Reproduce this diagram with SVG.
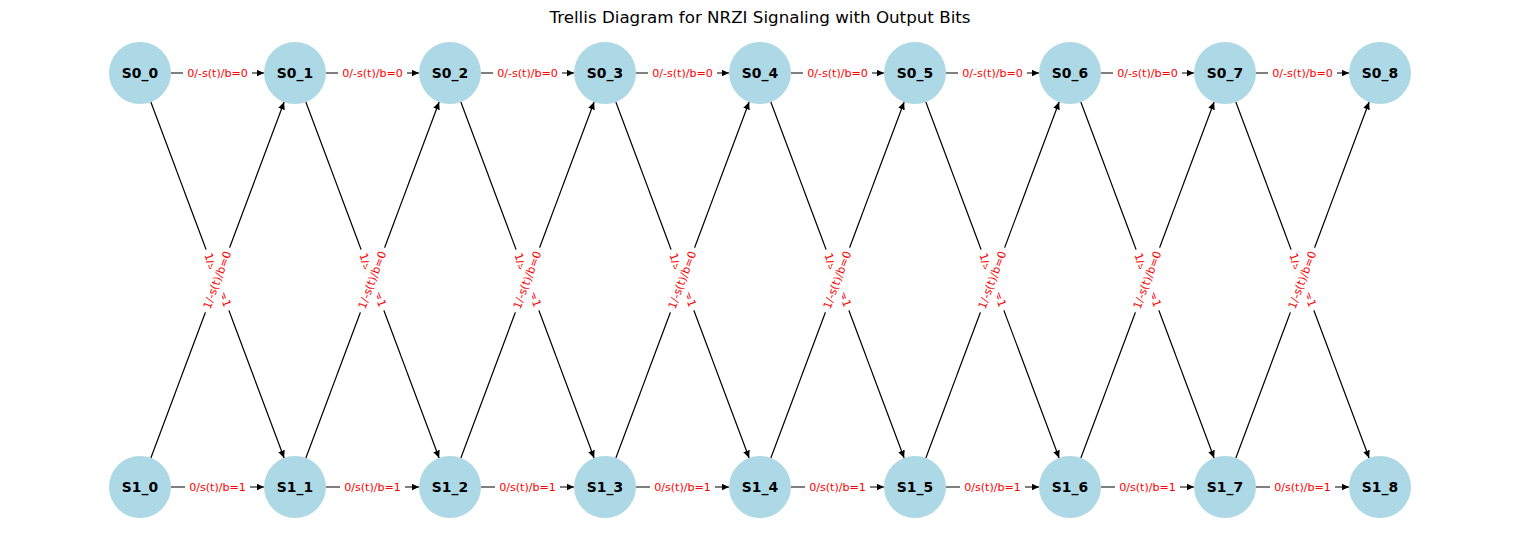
<svg xmlns="http://www.w3.org/2000/svg" width="1520" height="540" viewBox="0 0 1520 540">
<style>
.title{font-family:"DejaVu Sans","Liberation Sans",sans-serif;font-size:16.7px;fill:#000;text-anchor:middle}
.node circle{fill:#ADD8E6}
.node text{font-family:"DejaVu Sans","Liberation Sans",sans-serif;font-size:13.9px;font-weight:bold;fill:#000;text-anchor:middle;dominant-baseline:central}
.edge{stroke:#000;stroke-width:1.2;fill:none;marker-end:url(#arr)}
.lbl rect{fill:#fff;stroke:#fff;stroke-width:1}
.lbl text{font-family:"DejaVu Sans","Liberation Sans",sans-serif;font-size:11.1px;fill:#FF0000;text-anchor:middle;dominant-baseline:central}
</style>
<defs>
<marker id="arr" markerUnits="userSpaceOnUse" markerWidth="8" markerHeight="7" refX="7.5" refY="3.4" orient="auto">
<path d="M0,0 L7.5,3.4 L0,6.8 z" fill="#000"/>
</marker>
</defs>
<rect width="1520" height="540" fill="#fff"/>
<text class="title" x="760" y="23">Trellis Diagram for NRZI Signaling with Output Bits</text>

<g id="connectors">
<line class="edge" x1="171" y1="73" x2="264" y2="73"/>
<line class="edge" x1="326" y1="73" x2="419" y2="73"/>
<line class="edge" x1="481" y1="73" x2="574" y2="73"/>
<line class="edge" x1="636" y1="73" x2="729" y2="73"/>
<line class="edge" x1="791" y1="73" x2="884" y2="73"/>
<line class="edge" x1="946" y1="73" x2="1039" y2="73"/>
<line class="edge" x1="1101" y1="73" x2="1194" y2="73"/>
<line class="edge" x1="1256" y1="73" x2="1349" y2="73"/>

<line class="edge" x1="171" y1="487" x2="264" y2="487"/>
<line class="edge" x1="326" y1="487" x2="419" y2="487"/>
<line class="edge" x1="481" y1="487" x2="574" y2="487"/>
<line class="edge" x1="636" y1="487" x2="729" y2="487"/>
<line class="edge" x1="791" y1="487" x2="884" y2="487"/>
<line class="edge" x1="946" y1="487" x2="1039" y2="487"/>
<line class="edge" x1="1101" y1="487" x2="1194" y2="487"/>
<line class="edge" x1="1256" y1="487" x2="1349" y2="487"/>

<line class="edge" x1="150.87" y1="102.03" x2="284.13" y2="457.97"/>
<line class="edge" x1="305.87" y1="102.03" x2="439.13" y2="457.97"/>
<line class="edge" x1="460.87" y1="102.03" x2="594.13" y2="457.97"/>
<line class="edge" x1="615.87" y1="102.03" x2="749.13" y2="457.97"/>
<line class="edge" x1="770.87" y1="102.03" x2="904.13" y2="457.97"/>
<line class="edge" x1="925.87" y1="102.03" x2="1059.13" y2="457.97"/>
<line class="edge" x1="1080.87" y1="102.03" x2="1214.13" y2="457.97"/>
<line class="edge" x1="1235.87" y1="102.03" x2="1369.13" y2="457.97"/>

<line class="edge" x1="150.87" y1="457.97" x2="284.13" y2="102.03"/>
<line class="edge" x1="305.87" y1="457.97" x2="439.13" y2="102.03"/>
<line class="edge" x1="460.87" y1="457.97" x2="594.13" y2="102.03"/>
<line class="edge" x1="615.87" y1="457.97" x2="749.13" y2="102.03"/>
<line class="edge" x1="770.87" y1="457.97" x2="904.13" y2="102.03"/>
<line class="edge" x1="925.87" y1="457.97" x2="1059.13" y2="102.03"/>
<line class="edge" x1="1080.87" y1="457.97" x2="1214.13" y2="102.03"/>
<line class="edge" x1="1235.87" y1="457.97" x2="1369.13" y2="102.03"/>
</g>

<g id="edge-labels">
<g class="lbl" transform="translate(217.5,73)"><rect x="-34" y="-9.5" width="68" height="19" rx="3.3"/><text>0/-s(t)/b=0</text></g>
<g class="lbl" transform="translate(372.5,73)"><rect x="-34" y="-9.5" width="68" height="19" rx="3.3"/><text>0/-s(t)/b=0</text></g>
<g class="lbl" transform="translate(527.5,73)"><rect x="-34" y="-9.5" width="68" height="19" rx="3.3"/><text>0/-s(t)/b=0</text></g>
<g class="lbl" transform="translate(682.5,73)"><rect x="-34" y="-9.5" width="68" height="19" rx="3.3"/><text>0/-s(t)/b=0</text></g>
<g class="lbl" transform="translate(837.5,73)"><rect x="-34" y="-9.5" width="68" height="19" rx="3.3"/><text>0/-s(t)/b=0</text></g>
<g class="lbl" transform="translate(992.5,73)"><rect x="-34" y="-9.5" width="68" height="19" rx="3.3"/><text>0/-s(t)/b=0</text></g>
<g class="lbl" transform="translate(1147.5,73)"><rect x="-34" y="-9.5" width="68" height="19" rx="3.3"/><text>0/-s(t)/b=0</text></g>
<g class="lbl" transform="translate(1302.5,73)"><rect x="-34" y="-9.5" width="68" height="19" rx="3.3"/><text>0/-s(t)/b=0</text></g>

<g class="lbl" transform="translate(217.5,487)"><rect x="-32" y="-9.5" width="64" height="19" rx="3.3"/><text>0/s(t)/b=1</text></g>
<g class="lbl" transform="translate(372.5,487)"><rect x="-32" y="-9.5" width="64" height="19" rx="3.3"/><text>0/s(t)/b=1</text></g>
<g class="lbl" transform="translate(527.5,487)"><rect x="-32" y="-9.5" width="64" height="19" rx="3.3"/><text>0/s(t)/b=1</text></g>
<g class="lbl" transform="translate(682.5,487)"><rect x="-32" y="-9.5" width="64" height="19" rx="3.3"/><text>0/s(t)/b=1</text></g>
<g class="lbl" transform="translate(837.5,487)"><rect x="-32" y="-9.5" width="64" height="19" rx="3.3"/><text>0/s(t)/b=1</text></g>
<g class="lbl" transform="translate(992.5,487)"><rect x="-32" y="-9.5" width="64" height="19" rx="3.3"/><text>0/s(t)/b=1</text></g>
<g class="lbl" transform="translate(1147.5,487)"><rect x="-32" y="-9.5" width="64" height="19" rx="3.3"/><text>0/s(t)/b=1</text></g>
<g class="lbl" transform="translate(1302.5,487)"><rect x="-32" y="-9.5" width="64" height="19" rx="3.3"/><text>0/s(t)/b=1</text></g>

<g class="lbl" transform="translate(217.5,280) rotate(69.48)"><rect x="-32" y="-9.5" width="64" height="19" rx="3.3"/><text>1/s(t)/b=1</text></g>
<g class="lbl" transform="translate(217.5,280) rotate(-69.48)"><rect x="-34" y="-9.5" width="68" height="19" rx="3.3"/><text>1/-s(t)/b=0</text></g>
<g class="lbl" transform="translate(372.5,280) rotate(69.48)"><rect x="-32" y="-9.5" width="64" height="19" rx="3.3"/><text>1/s(t)/b=1</text></g>
<g class="lbl" transform="translate(372.5,280) rotate(-69.48)"><rect x="-34" y="-9.5" width="68" height="19" rx="3.3"/><text>1/-s(t)/b=0</text></g>
<g class="lbl" transform="translate(527.5,280) rotate(69.48)"><rect x="-32" y="-9.5" width="64" height="19" rx="3.3"/><text>1/s(t)/b=1</text></g>
<g class="lbl" transform="translate(527.5,280) rotate(-69.48)"><rect x="-34" y="-9.5" width="68" height="19" rx="3.3"/><text>1/-s(t)/b=0</text></g>
<g class="lbl" transform="translate(682.5,280) rotate(69.48)"><rect x="-32" y="-9.5" width="64" height="19" rx="3.3"/><text>1/s(t)/b=1</text></g>
<g class="lbl" transform="translate(682.5,280) rotate(-69.48)"><rect x="-34" y="-9.5" width="68" height="19" rx="3.3"/><text>1/-s(t)/b=0</text></g>
<g class="lbl" transform="translate(837.5,280) rotate(69.48)"><rect x="-32" y="-9.5" width="64" height="19" rx="3.3"/><text>1/s(t)/b=1</text></g>
<g class="lbl" transform="translate(837.5,280) rotate(-69.48)"><rect x="-34" y="-9.5" width="68" height="19" rx="3.3"/><text>1/-s(t)/b=0</text></g>
<g class="lbl" transform="translate(992.5,280) rotate(69.48)"><rect x="-32" y="-9.5" width="64" height="19" rx="3.3"/><text>1/s(t)/b=1</text></g>
<g class="lbl" transform="translate(992.5,280) rotate(-69.48)"><rect x="-34" y="-9.5" width="68" height="19" rx="3.3"/><text>1/-s(t)/b=0</text></g>
<g class="lbl" transform="translate(1147.5,280) rotate(69.48)"><rect x="-32" y="-9.5" width="64" height="19" rx="3.3"/><text>1/s(t)/b=1</text></g>
<g class="lbl" transform="translate(1147.5,280) rotate(-69.48)"><rect x="-34" y="-9.5" width="68" height="19" rx="3.3"/><text>1/-s(t)/b=0</text></g>
<g class="lbl" transform="translate(1302.5,280) rotate(69.48)"><rect x="-32" y="-9.5" width="64" height="19" rx="3.3"/><text>1/s(t)/b=1</text></g>
<g class="lbl" transform="translate(1302.5,280) rotate(-69.48)"><rect x="-34" y="-9.5" width="68" height="19" rx="3.3"/><text>1/-s(t)/b=0</text></g>
</g>

<g id="S0_0" class="node"><circle cx="140" cy="73" r="31"/><text x="140" y="73">S0_0</text></g>
<g id="S0_1" class="node"><circle cx="295" cy="73" r="31"/><text x="295" y="73">S0_1</text></g>
<g id="S0_2" class="node"><circle cx="450" cy="73" r="31"/><text x="450" y="73">S0_2</text></g>
<g id="S0_3" class="node"><circle cx="605" cy="73" r="31"/><text x="605" y="73">S0_3</text></g>
<g id="S0_4" class="node"><circle cx="760" cy="73" r="31"/><text x="760" y="73">S0_4</text></g>
<g id="S0_5" class="node"><circle cx="915" cy="73" r="31"/><text x="915" y="73">S0_5</text></g>
<g id="S0_6" class="node"><circle cx="1070" cy="73" r="31"/><text x="1070" y="73">S0_6</text></g>
<g id="S0_7" class="node"><circle cx="1225" cy="73" r="31"/><text x="1225" y="73">S0_7</text></g>
<g id="S0_8" class="node"><circle cx="1380" cy="73" r="31"/><text x="1380" y="73">S0_8</text></g>

<g id="S1_0" class="node"><circle cx="140" cy="487" r="31"/><text x="140" y="487">S1_0</text></g>
<g id="S1_1" class="node"><circle cx="295" cy="487" r="31"/><text x="295" y="487">S1_1</text></g>
<g id="S1_2" class="node"><circle cx="450" cy="487" r="31"/><text x="450" y="487">S1_2</text></g>
<g id="S1_3" class="node"><circle cx="605" cy="487" r="31"/><text x="605" y="487">S1_3</text></g>
<g id="S1_4" class="node"><circle cx="760" cy="487" r="31"/><text x="760" y="487">S1_4</text></g>
<g id="S1_5" class="node"><circle cx="915" cy="487" r="31"/><text x="915" y="487">S1_5</text></g>
<g id="S1_6" class="node"><circle cx="1070" cy="487" r="31"/><text x="1070" y="487">S1_6</text></g>
<g id="S1_7" class="node"><circle cx="1225" cy="487" r="31"/><text x="1225" y="487">S1_7</text></g>
<g id="S1_8" class="node"><circle cx="1380" cy="487" r="31"/><text x="1380" y="487">S1_8</text></g>
</svg>
